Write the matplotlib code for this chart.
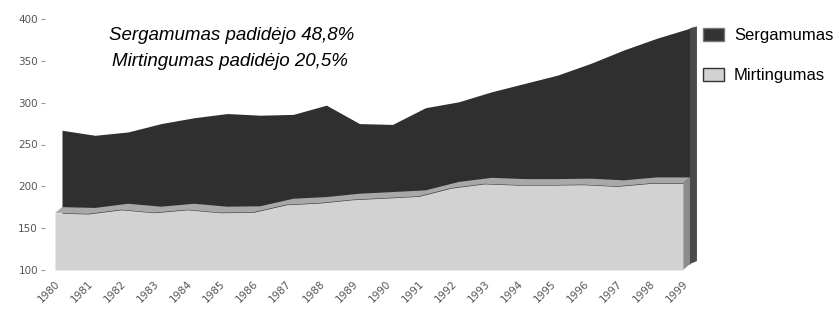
import numpy as np
import matplotlib.pyplot as plt
from matplotlib.patches import Polygon, Patch

# data
years = [str(y) for y in range(1980, 2000)]
sergamumas = [267, 261, 265, 275, 282, 287, 285, 286, 297, 275,
              274, 294, 301, 313, 323, 333, 347, 363, 377, 389]
mirtingumas = [168, 167, 172, 168.5, 172, 168.5, 169, 178, 180, 184,
               186, 188, 198, 203, 201.5, 201.5, 202, 200, 203.5, 203.5]
y_ticks = [100, 150, 200, 250, 300, 350, 400]
note_lines = ["Sergamumas padidėjo 48,8%", "Mirtingumas padidėjo 20,5%"]

W, H = 839, 320
fig = plt.figure(figsize=(W / 100, H / 100), dpi=100)
ax = fig.add_axes([45 / W, 50 / H, (700 - 45) / W, 251 / H])

idx = np.arange(len(years))
ser = np.array(sergamumas, dtype=float)
mir = np.array(mirtingumas, dtype=float)

# fake 3d depth (in data units)
dx = 7 / 33.05
dy = 6 / 0.837

dark = '#2f2f2f'
light = '#d2d2d2'

# back series (Sergamumas)
ax.fill_between(idx + dx, 100 + dy, ser, color=dark, lw=0, zorder=1)
ax.add_patch(Polygon([(idx[-1] + dx, 100 + dy), (idx[-1] + dx, ser[-1]),
                      (idx[-1] + 2 * dx, ser[-1] + dy * 0.3),
                      (idx[-1] + 2 * dx, 100 + 1.5 * dy)],
                     closed=True, fc='#4a4a4a', ec='none', zorder=1))

# front series (Mirtingumas): top face, side face, front face
top = list(zip(idx, mir)) + list(zip(idx[::-1] + dx, mir[::-1] + dy))
ax.add_patch(Polygon(top, closed=True, fc='#a8a8a8', ec='none', zorder=2))
ax.add_patch(Polygon([(idx[-1], 100), (idx[-1], mir[-1]),
                      (idx[-1] + dx, mir[-1] + dy), (idx[-1] + dx, 100 + dy)],
                     closed=True, fc='#8c8c8c', ec='none', zorder=2))
ax.fill_between(idx, 100, mir, color=light, lw=0, zorder=3)

ax.set_xlim((45 - 55) / 33.05, (700 - 55) / 33.05)
ax.set_ylim(100, 400)
ax.set_yticks(y_ticks)
ax.set_xticks(idx)
ax.set_xticklabels(years, rotation=45, ha='right', va='top',
                   rotation_mode='anchor')
ax.tick_params(axis='y', length=3, color='#999999', pad=2,
               labelsize=7.5, labelcolor='#555555')
ax.tick_params(axis='x', length=0, pad=6, labelsize=7.5, labelcolor='#555555')
for s in ax.spines.values():
    s.set_visible(False)

# annotation
fig.text(232 / W, 1 - 36 / H, note_lines[0], ha='center', va='center',
         style='italic', fontsize=13.5, family='Liberation Sans')
fig.text(230 / W, 1 - 62 / H, note_lines[1], ha='center', va='center',
         style='italic', fontsize=13.5, family='Liberation Sans')

handles = [Patch(facecolor='#333333', edgecolor='#777777'),
           Patch(facecolor=light, edgecolor='#333333')]
fig.legend(handles, ['Sergamumas', 'Mirtingumas'], loc='upper left',
           bbox_to_anchor=(703 / W, 1 - 28 / H), frameon=False,
           prop={'family': 'Liberation Sans', 'size': 12},
           handlelength=1.25, handleheight=0.8, handletextpad=0.6,
           labelspacing=1.5, borderpad=0, borderaxespad=0)

fig.savefig('out.png', dpi=100)
